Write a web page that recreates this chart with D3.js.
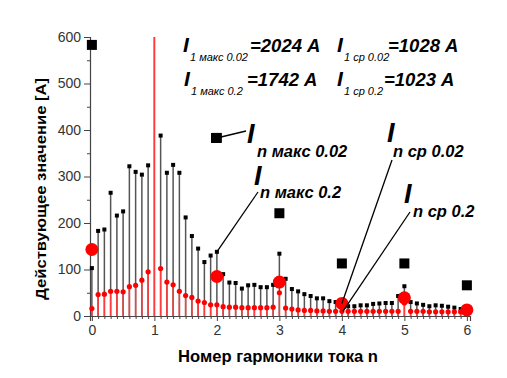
<!DOCTYPE html>
<html><head><meta charset="utf-8">
<script src="https://cdn.jsdelivr.net/npm/d3@7/dist/d3.min.js"></script>
<style>
body{margin:0;background:#fff;}
svg{display:block;font-family:"Liberation Sans",Arial,sans-serif;}
</style></head>
<body><svg id="c" width="507" height="378"></svg>
<script>
// Harmonic numbers (0.1 step, interharmonic resolution)
const harmonics = [0.0,0.1,0.2,0.3,0.4,0.5,0.6,0.7,0.8,0.9,1.0,1.1,1.2,1.3,1.4,1.5,1.6,1.7,1.8,1.9,2.0,
  2.1,2.2,2.3,2.4,2.5,2.6,2.7,2.8,2.9,3.0,3.1,3.2,3.3,3.4,3.5,3.6,3.7,3.8,3.9,4.0,
  4.1,4.2,4.3,4.4,4.5,4.6,4.7,4.8,4.9,5.0,5.1,5.2,5.3,5.4,5.5,5.6,5.7,5.8,5.9,6.0];
// I n max 0.2 (black stems)
const maxI02 = [103,183,186,265,216,225,322,310,304,324,1742,388,308,325,308,212,172,145,116,130,138,
  90,72,71,59,66,67,62,62,67,134,80,58,53,47,43,38,38,32,30,28,
  21,21,23,23,26,27,28,28,43,64,30,27,24,21,23,22,20,18,15,12];
// I n avg 0.2 (red stems)
const avgI02 = [16,46,47,53,53,52,63,66,77,95,1023,102,73,67,53,44,40,32,29,24,24,
  20,19,19,18,18,18,18,18,19,50,17,15,13,12,12,11,11,10,10,10,
  10,10,10,10,10,10,10,10,10,28,10,10,10,9,9,9,9,9,9,9];
// Integer harmonics, 0.02 s window
const intHarm = [0,2,3,4,5,6];
const maxI002 = [583,383,221,113,113,66];
const avgI002 = [143,85,73,27,39,13];
const xTicks = [0,1,2,3,4,5,6];
const yTicks = [0,100,200,300,400,500,600];

const svg = d3.select("#c");
const x = d3.scaleLinear().domain([-0.03,6.05]).range([90,470]);
const y = d3.scaleLinear().domain([0,600]).range([316,37]);

svg.append("defs").append("clipPath").attr("id","clip")
  .append("rect").attr("x",80).attr("y",y(600)).attr("width",400).attr("height",y(0)-y(600)+5);

// axes
const yAxis = d3.axisLeft(y).tickValues(yTicks).tickSize(6).tickPadding(3);
const gy = svg.append("g").attr("transform","translate(90,0)").call(yAxis);
const yMinor = d3.axisLeft(y).tickValues([50,150,250,350,450,550]).tickSize(3).tickFormat("");
svg.append("g").attr("transform","translate(90,0)").call(yMinor).select(".domain").remove();

const xAxis = d3.axisBottom(x).tickValues(xTicks).tickSize(5).tickPadding(4).tickFormat(d3.format("d"));
const gx = svg.append("g").attr("transform","translate(0,316)").call(xAxis);
const xMinor = d3.axisBottom(x).tickValues(harmonics.filter(h=>xTicks.indexOf(h)<0)).tickSize(3).tickFormat("");
svg.append("g").attr("transform","translate(0,316)").call(xMinor).select(".domain").remove();

svg.selectAll(".domain").attr("stroke","#444").attr("stroke-width",1.2);
svg.selectAll(".tick line").attr("stroke","#444");
svg.selectAll(".tick text").attr("font-size",14).attr("fill","#333").attr("font-family","Liberation Sans, Arial, sans-serif");

const plot = svg.append("g").attr("clip-path","url(#clip)");

// black stems
plot.selectAll(".bs").data(harmonics).join("line")
  .attr("x1",d=>x(d)).attr("x2",d=>x(d)).attr("y1",y(0)).attr("y2",(d,i)=>y(maxI02[i]))
  .attr("stroke","#555").attr("stroke-width",1.5);
plot.selectAll(".bm").data(harmonics).join("rect")
  .attr("x",d=>x(d)-2).attr("y",(d,i)=>y(maxI02[i])-2).attr("width",4).attr("height",4).attr("fill","#000");
// red stems
plot.selectAll(".rs").data(harmonics).join("line")
  .attr("x1",d=>x(d)).attr("x2",d=>x(d)).attr("y1",y(0)).attr("y2",(d,i)=>y(avgI02[i]))
  .attr("stroke","#ff3b3b").attr("stroke-width",1.5);
plot.selectAll(".rm").data(harmonics).join("circle")
  .attr("cx",d=>x(d)).attr("cy",(d,i)=>y(avgI02[i])).attr("r",2.6).attr("fill","#ff0000");

// big markers
svg.selectAll(".BS").data(intHarm).join("rect")
  .attr("x",d=>x(d)-5).attr("y",(d,i)=>y(maxI002[i])-5).attr("width",10).attr("height",10).attr("fill","#000");
svg.selectAll(".BR").data(intHarm).join("circle")
  .attr("cx",d=>x(d)).attr("cy",(d,i)=>y(avgI002[i])).attr("r",6.5).attr("fill","#ff0000");

// titles
svg.append("text").attr("x",278).attr("y",362).attr("text-anchor","middle")
  .attr("font-size",16).attr("font-weight","bold")
  .attr("textLength",200).attr("lengthAdjust","spacingAndGlyphs").text("Номер гармоники тока n");
svg.append("text").attr("transform","translate(46,189) rotate(-90)").attr("text-anchor","middle")
  .attr("font-size",15.5).attr("font-weight","bold")
  .attr("textLength",222).attr("lengthAdjust","spacingAndGlyphs").text("Действующее значение [A]");

// top annotations
function topLabel(xI, yb, sub, val, xVal){
  const t = svg.append("text").attr("font-style","italic").attr("font-weight","bold");
  t.append("tspan").attr("x",xI).attr("y",yb).attr("font-size",21).text("I");
  t.append("tspan").attr("x",xI+7).attr("y",yb+9).attr("font-size",11).attr("font-weight","normal").text(sub);
  t.append("tspan").attr("x",xVal).attr("y",yb).attr("font-size",18.5).text(val);
}
topLabel(183,52,"1 макс 0.02","=2024 A",250);
topLabel(337,52,"1 ср 0.02","=1028 A",388);
topLabel(184,86,"1 макс 0.2","=1742 A",247);
topLabel(337,86,"1 ср 0.2","=1023 A",384);

// legend-like callouts
function callout(xI, yI, txt, xt, yt){
  const t = svg.append("text").attr("font-style","italic").attr("font-weight","bold");
  t.append("tspan").attr("x",xI).attr("y",yI).attr("font-size",27).text("I");
  t.append("tspan").attr("x",xt).attr("y",yt).attr("font-size",16.5).text(txt);
}
callout(247,143,"n макс 0.02",257,157);
callout(254,185,"n макс 0.2",260,198);
callout(387,142,"n ср 0.02",393,157);
callout(404,203,"n ср 0.2",413,217);

// leader lines
const leaders = [[221,137,246,131],[258,192,x(2),y(maxI02[20])],[392,160,x(4),y(avgI002[3])],[410,212,x(4)+1,y(avgI02[40])]];
svg.selectAll(".ld").data(leaders).join("line")
  .attr("x1",d=>d[0]).attr("y1",d=>d[1]).attr("x2",d=>d[2]).attr("y2",d=>d[3])
  .attr("stroke","#000").attr("stroke-width",1.3);
svg.append("rect").attr("x",211).attr("y",133).attr("width",10).attr("height",10).attr("fill","#000");
</script></body></html>
